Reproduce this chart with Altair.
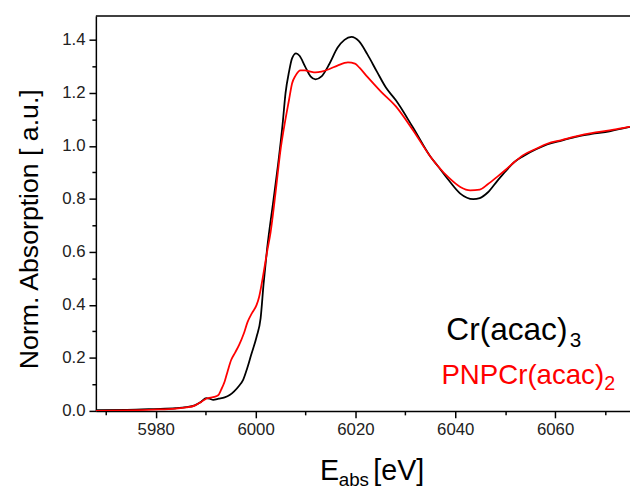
import altair as alt
import pandas as pd

# ---- data ----
energy_cr = [5968.0, 5974.2, 5979.6, 5984.0, 5986.1, 5987.8, 5989.1, 5990.1, 5990.8, 5991.5, 5992.6,
             5993.8, 5994.8, 5995.7, 5996.7, 5997.5, 5998.3, 5999.1, 6000.2, 6001.0, 6001.6,
             6002.3, 6003.6, 6004.5, 6005.4, 6006.0, 6006.7, 6007.3, 6008.1, 6008.8, 6009.9,
             6011.0, 6012.0, 6013.2, 6014.8, 6016.4, 6017.8, 6019.2, 6020.7, 6022.4, 6024.3,
             6026.1, 6028.1, 6031.5, 6035.0, 6036.5, 6038.7, 6041.0, 6043.6, 6044.9, 6046.5,
             6048.5, 6050.1, 6051.9, 6053.6, 6056.3, 6058.4, 6061.3, 6064.6, 6067.3, 6070.9,
             6073.8, 6077.0]
absorb_cr = [0.003, 0.004, 0.007, 0.010, 0.014, 0.021, 0.035, 0.048, 0.046, 0.042, 0.046,
             0.051, 0.060, 0.074, 0.095, 0.117, 0.160, 0.211, 0.280, 0.349, 0.480,
             0.611, 0.799, 0.930, 1.080, 1.200, 1.280, 1.330, 1.349, 1.340, 1.300,
             1.262, 1.251, 1.262, 1.310, 1.370, 1.400, 1.411, 1.395, 1.345, 1.280,
             1.220, 1.172, 1.070, 0.960, 0.924, 0.870, 0.820, 0.799, 0.803, 0.824,
             0.870, 0.905, 0.940, 0.961, 0.988, 1.005, 1.020, 1.036, 1.045, 1.055,
             1.067, 1.080]

energy_pnp = [5968.0, 5974.2, 5979.6, 5984.0, 5986.1, 5987.8, 5989.1, 5990.1, 5991.0, 5991.7, 5992.5,
              5993.1, 5993.8, 5994.4, 5995.1, 5995.9, 5996.7, 5997.6, 5998.4, 5999.3, 6000.2,
              6000.7, 6001.4, 6002.3, 6003.0, 6004.0, 6005.0, 6005.7, 6006.7, 6007.3, 6008.0,
              6009.0, 6009.9, 6011.0, 6012.0, 6013.2, 6014.8, 6016.4, 6018.5, 6019.9, 6020.8,
              6022.4, 6025.1, 6028.1, 6031.5, 6035.0, 6036.5, 6038.7, 6041.0, 6043.0, 6044.9,
              6046.5, 6048.5, 6050.1, 6051.9, 6053.6, 6056.3, 6058.4, 6061.3, 6064.6, 6067.3,
              6070.9, 6073.8, 6077.0]
absorb_pnp = [0.000, 0.002, 0.005, 0.009, 0.013, 0.020, 0.034, 0.046, 0.050, 0.053, 0.059,
              0.080, 0.111, 0.150, 0.192, 0.220, 0.249, 0.290, 0.336, 0.370, 0.400,
              0.430, 0.499, 0.600, 0.674, 0.824, 0.986, 1.070, 1.174, 1.235, 1.265,
              1.285, 1.285, 1.280, 1.277, 1.280, 1.290, 1.303, 1.315, 1.310, 1.295,
              1.260, 1.205, 1.149, 1.060, 0.960, 0.924, 0.880, 0.845, 0.832, 0.835,
              0.855, 0.885, 0.910, 0.940, 0.965, 0.990, 1.008, 1.022, 1.038, 1.048,
              1.058, 1.068, 1.080]

series_names = ["Cr(acac)3", "PNPCr(acac)2"]
series_colors = ["#000000", "#ff0000"]
x_ticks = list(range(5970, 6071, 10))
y_ticks = [round(i * 0.1, 1) for i in range(0, 15)]

W, H = 541, 400
FONT = "Liberation Sans"

df = pd.concat([
    pd.DataFrame({"E": energy_cr, "A": absorb_cr, "series": series_names[0], "k": 0}),
    pd.DataFrame({"E": energy_pnp, "A": absorb_pnp, "series": series_names[1], "k": 1}),
])

x_axis = alt.Axis(
    values=x_ticks, title=None, grid=False,
    labelExpr="datum.value % 20 == 0 ? format(datum.value, 'd') : ''",
    tickSize={"condition": {"test": "datum.value % 20 == 0", "value": 7}, "value": 4},
    labelFont=FONT, labelFontSize=17, labelColor="#222222", labelPadding=4,
    labelOverlap=False, labelFlush=False,
    domainColor="#000000", domainWidth=1.5, tickColor="#000000", tickWidth=1.5,
)
y_axis = alt.Axis(
    values=y_ticks, title=None, grid=False,
    labelExpr="round(datum.value * 10) % 2 == 0 ? format(datum.value, '.1f') : ''",
    tickSize={"condition": {"test": "round(datum.value * 10) % 2 == 0", "value": 7}, "value": 4},
    labelFont=FONT, labelFontSize=17, labelColor="#222222", labelPadding=4,
    labelOverlap=False, labelFlush=False,
    domainColor="#000000", domainWidth=1.5, tickColor="#000000", tickWidth=1.5,
)

lines = alt.Chart(df).mark_line(strokeWidth=1.8, interpolate="monotone", clip=True).encode(
    x=alt.X("E:Q", scale=alt.Scale(domain=[5968, 6075], nice=False, zero=False), axis=x_axis),
    y=alt.Y("A:Q", scale=alt.Scale(domain=[0, 1.49], nice=False), axis=y_axis),
    color=alt.Color("series:N", scale=alt.Scale(domain=series_names, range=series_colors), legend=None),
    order="k:Q",
)

one = pd.DataFrame({"a": [0]})

top_rule = alt.Chart(one).mark_rule(color="#000000", strokeWidth=1.5).encode(
    x=alt.value(0), x2=alt.value(W + 5), y=alt.value(0)
)


def txt(s, x, y, size, color="#000000", angle=0, align="left", baseline="alphabetic"):
    return alt.Chart(one).mark_text(
        text=s, font=FONT, fontSize=size, color=color, align=align, baseline=baseline,
        angle=angle,
    ).encode(x=alt.value(x), y=alt.value(y))


texts = [
    # legend
    txt("Cr(acac)", 355, 328, 32),
    txt("3", 480, 335, 21),
    txt("PNPCr(acac)", 350, 373, 28, color="#ff0000"),
    txt("2", 515, 379, 20, color="#ff0000"),
    # x title
    txt("E", 227, 470, 29),
    txt("abs", 246, 476, 19),
    txt("[eV]", 281, 470, 29),
    # y title
    txt("Norm. Absorption [ a.u.]", -67, 216, 27, angle=270, align="center", baseline="middle"),
]

chart = alt.layer(lines, top_rule, *texts).properties(
    width=W, height=H,
    autosize=alt.AutoSizeParams(type="none"),
    padding={"left": 89, "top": 5, "right": 0, "bottom": 75},
).configure_view(stroke=None)

chart.save("out.html", embed_options={"renderer": "svg", "actions": False})
